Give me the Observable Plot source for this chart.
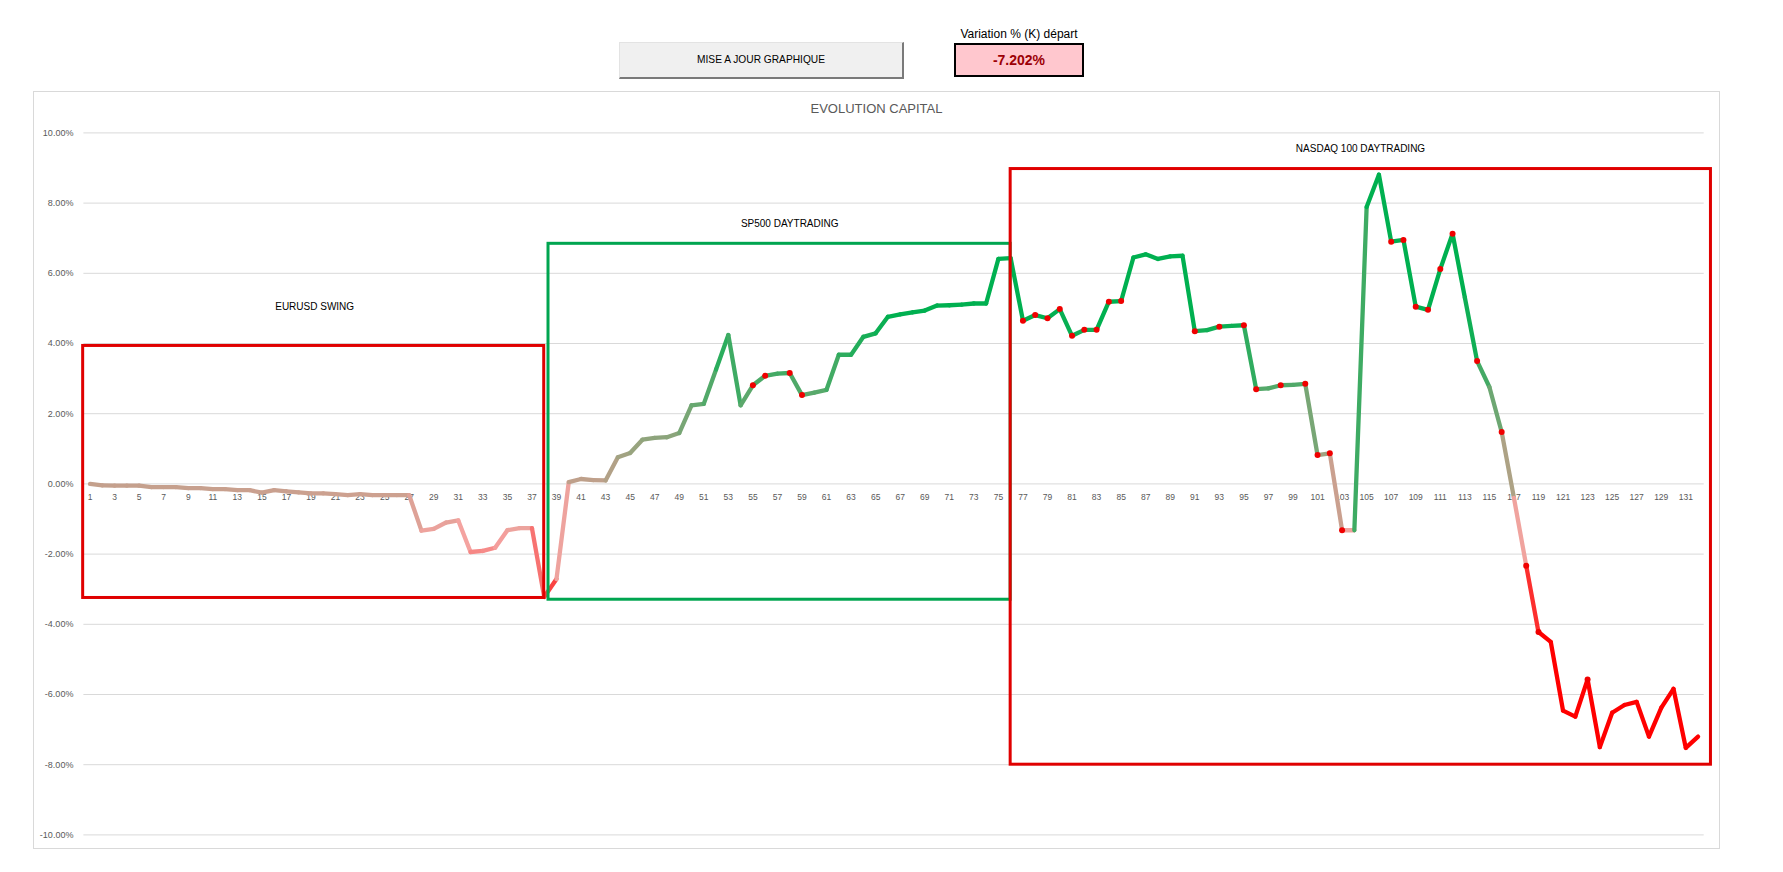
<!DOCTYPE html>
<html>
<head>
<meta charset="utf-8">
<script src="https://cdn.jsdelivr.net/npm/d3@7"></script>
<script src="https://cdn.jsdelivr.net/npm/@observablehq/plot@0.6"></script>
<style>
  html, body { margin: 0; padding: 0; background: #fff; overflow: hidden; }
  body { width: 1783px; height: 872px; position: relative; font-family: "Liberation Sans", Arial, sans-serif; }
  #chart { position: absolute; left: 0; top: 0; }
  #frame { position: absolute; left: 33px; top: 91px; width: 1685px; height: 756px; border: 1px solid #d9d9d9; pointer-events: none; }
  #title { position: absolute; left: 33px; width: 1687px; top: 101px; text-align: center; font-size: 13px; color: #595959; line-height: 16px; }
  #btn { position: absolute; left: 619px; top: 42px; width: 285px; height: 37px; box-sizing: border-box;
         background: #f0f0f0; border-top: 1px solid #e3e3e3; border-left: 1px solid #e3e3e3;
         border-right: 2px solid #7a7a7a; border-bottom: 2px solid #7a7a7a;
         font-size: 10.2px; color: #000; text-align: center; line-height: 34px; }
  #varLabel { position: absolute; left: 944px; width: 150px; top: 27px; text-align: center; font-size: 12px; color: #000; line-height: 15px; }
  #varBox { position: absolute; left: 954px; top: 43px; width: 130px; height: 34px; box-sizing: border-box;
            background: #ffc7ce; border: 2px solid #000; text-align: center; line-height: 30px;
            font-size: 14px; font-weight: bold; color: #9c0006; }
</style>
</head>
<body>
<div id="btn">MISE A JOUR GRAPHIQUE</div>
<div id="varLabel">Variation % (K) départ</div>
<div id="varBox"></div>
<div id="chart"></div>
<div id="frame"></div>
<div id="title">EVOLUTION CAPITAL</div>
<script>
// ---- data (values in %) ----
const capital = [
  0.00, -0.04, -0.05, -0.05, -0.05, -0.09, -0.09, -0.09, -0.12, -0.12,
  -0.15, -0.15, -0.18, -0.18, -0.25, -0.18, -0.21, -0.24, -0.27, -0.27,
  -0.29, -0.32, -0.29, -0.32, -0.32, -0.32, -0.32, -1.33, -1.28, -1.10,
  -1.04, -1.94, -1.91, -1.82, -1.32, -1.26, -1.26, -3.22, -2.71, 0.05,
  0.14, 0.11, 0.10, 0.76, 0.88, 1.26, 1.31, 1.33, 1.45, 2.24,
  2.28, 3.26, 4.24, 2.24, 2.81, 3.08, 3.14, 3.16, 2.53, 2.60,
  2.68, 3.68, 3.68, 4.19, 4.29, 4.76, 4.83, 4.89, 4.94, 5.08,
  5.09, 5.11, 5.14, 5.14, 6.41, 6.43, 4.65, 4.81, 4.72, 4.98,
  4.22, 4.39, 4.39, 5.19, 5.21, 6.45, 6.54, 6.41, 6.48, 6.50,
  4.35, 4.38, 4.48, 4.50, 4.52, 2.70, 2.72, 2.81, 2.82, 2.85,
  0.82, 0.87, -1.32, -1.32, 7.89, 8.81, 6.90, 6.95, 5.05, 4.96,
  6.12, 7.13, 5.31, 3.50, 2.76, 1.48, -0.40, -2.33, -4.22, -4.50,
  -6.46, -6.63, -5.57, -7.50, -6.52, -6.30, -6.21, -7.20, -6.38, -5.84,
  -7.52, -7.20
];
const periods = capital.map((_, k) => k + 1);
const markedPeriods = [55, 56, 58, 59, 77, 78, 79, 80, 81, 82, 83, 84, 85, 91, 93, 95, 96, 98, 100,
  101, 102, 103, 107, 108, 109, 110, 111, 112, 114, 116, 118, 119, 123];
const xTickLabels = d3.range(1, 132, 2);
const yTicks = [-10, -8, -6, -4, -2, 0, 2, 4, 6, 8, 10];
const zones = [
  { name: "EURUSD SWING", from: 0.44, to: 38.0, low: -3.25, high: 3.93 },
  { name: "SP500 DAYTRADING", from: 38.35, to: 76.0, low: -3.30, high: 6.84 },
  { name: "NASDAQ 100 DAYTRADING", from: 76.0, to: 133.05, low: -8.0, high: 8.97 }
];
const zoneLabels = [
  { text: "EURUSD SWING", at: 19.3, level: 5.05 },
  { text: "SP500 DAYTRADING", at: 58.0, level: 7.42 },
  { text: "NASDAQ 100 DAYTRADING", at: 104.5, level: 9.56 }
];
const variation = -7.202;

// ---- styles ----
const zoneColor = { "EURUSD SWING": "#e00000", "SP500 DAYTRADING": "#00a550", "NASDAQ 100 DAYTRADING": "#e00000" };
const gradientStops = [
  { v: 4.8, c: "#00b050" },
  { v: 0.0, c: "#c3a08c" },
  { v: -1.5, c: "#f4a3a0" },
  { v: -4.0, c: "#ff0000" }
];
const colorAt = d3.scaleLinear()
  .domain(gradientStops.map(s => s.v))
  .range(gradientStops.map(s => s.c))
  .interpolate(d3.interpolateRgb)
  .clamp(true);

document.getElementById("varBox").textContent = variation.toFixed(3) + "%";

const rows = periods.map((p, k) => ({ p, v: capital[k] }));
const marked = rows.filter(d => markedPeriods.includes(d.p));
const pairs = d3.pairs(rows).map(([a, b]) => ({ p1: a.p, v1: a.v, p2: b.p, v2: b.v }));

const plot = Plot.plot({
  width: 1783,
  height: 872,
  marginLeft: 83.4,
  marginRight: 79.3,
  marginTop: 132.4,
  marginBottom: 37.6,
  style: { background: "transparent", fontFamily: "'Liberation Sans', Arial, sans-serif" },
  x: { domain: [0.5, 132.5], axis: null },
  y: { domain: [-10, 10] },
  color: { type: "identity" },
  marks: [
    Plot.ruleY(yTicks, { stroke: "#d9d9d9", strokeWidth: 1 }),
    Plot.axisY({ ticks: yTicks, tickSize: 0, tickPadding: 10.5, tickFormat: d => d.toFixed(2) + "%", fontSize: 9, color: "#595959", label: null }),
    Plot.text(xTickLabels, { x: d => d, y: () => 0, dy: 13.5, text: d => String(d), fontSize: 8.5, fill: "#595959" }),
    Plot.link(pairs, { x1: "p1", y1: "v1", x2: "p2", y2: "v2", stroke: d => colorAt((d.v1 + d.v2) / 2), strokeWidth: 4.3, strokeLinecap: "round" }),
    Plot.dot(marked, { x: "p", y: "v", r: 3, fill: "#f00000", stroke: "none" }),
    Plot.rect(zones, { x1: "from", x2: "to", y1: "low", y2: "high", stroke: d => zoneColor[d.name], fill: "none", strokeWidth: 3 }),
    Plot.text(zoneLabels, { x: "at", y: "level", text: "text", fontSize: 10, fill: "#000" })
  ]
});

document.getElementById("chart").appendChild(plot);
</script>
</body>
</html>
